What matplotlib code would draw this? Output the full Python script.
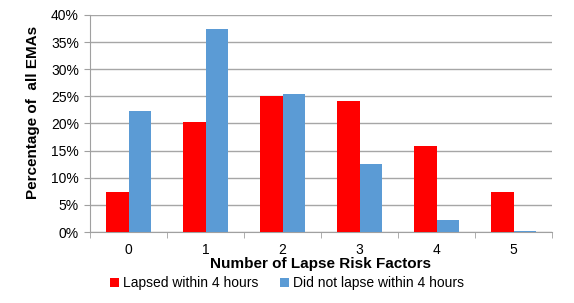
import numpy as np
import matplotlib
matplotlib.use("Agg")
import matplotlib.pyplot as plt
from matplotlib.ticker import FuncFormatter, MultipleLocator

plt.rcParams["font.family"] = ["Liberation Sans", "DejaVu Sans"]

categories = ["0", "1", "2", "3", "4", "5"]
lapsed = [7.4, 20.3, 25.1, 24.1, 15.9, 7.4]
not_lapsed = [22.3, 37.4, 25.5, 12.5, 2.2, 0.1]

RED = "#ff0000"
BLUE = "#5b9bd5"

fig = plt.figure(figsize=(5.74, 3.03), dpi=100)
ax = fig.add_axes([90 / 574, 71 / 303, 462 / 574, 217 / 303])

x = np.arange(len(categories))
w = 0.286
ax.bar(x - w / 2, lapsed, w, color=RED, label="Lapsed within 4 hours", zorder=3)
ax.bar(x + w / 2, not_lapsed, w, color=BLUE, label="Did not lapse within 4 hours", zorder=3)

ax.set_xlim(-0.5, len(categories) - 0.5)
ax.set_ylim(0, 40)
ax.yaxis.set_major_locator(MultipleLocator(5))
ax.yaxis.set_major_formatter(FuncFormatter(lambda v, p: f"{v:.0f}%"))
ax.set_xticks(x)
ax.set_xticklabels(categories)
ax.set_xticks(np.arange(-0.5, len(categories)), minor=True)
ax.tick_params(axis="x", which="major", length=0, pad=8, labelsize=10)
ax.tick_params(axis="x", which="minor", length=4, color="#a0a0a0", direction="out")
ax.tick_params(axis="y", length=4, color="#a0a0a0", labelsize=10, pad=4)

ax.grid(axis="y", color="#a6a6a6", linewidth=1, zorder=0)
ax.get_ygridlines()[-1].set_color("#d0d0d0")
for s in ["top", "right"]:
    ax.spines[s].set_visible(False)
ax.spines["left"].set_color("#a0a0a0")
ax.spines["bottom"].set_color("#a0a0a0")

ax.set_xlabel("Number of Lapse Risk Factors", fontsize=11, fontweight="bold", labelpad=0)
ax.set_ylabel("Percentage of  all EMAs", fontsize=11, fontweight="bold")
ax.yaxis.set_label_coords(-0.108, 0.55)

fig.legend(loc="center", bbox_to_anchor=(0.5, 20 / 303), ncol=2, frameon=False,
           fontsize=10, handlelength=0.6, handleheight=0.6, handletextpad=0.3,
           columnspacing=1.6)

fig.savefig("out.png", dpi=100)
